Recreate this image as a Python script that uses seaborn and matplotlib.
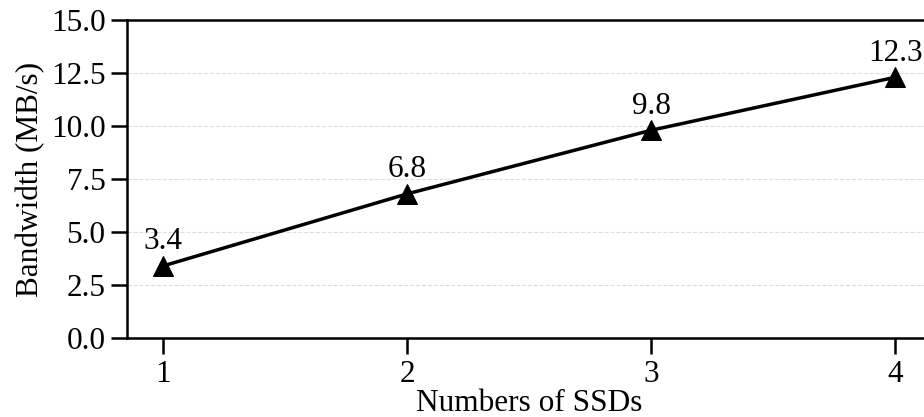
import matplotlib
matplotlib.use('Agg')
import matplotlib.pyplot as plt
import seaborn as sns
import pandas as pd

# values
num_ssds = [1, 2, 3, 4]
bandwidth = [3.4, 6.8, 9.8, 12.3]
y_ticks = [0.0, 2.5, 5.0, 7.5, 10.0, 12.5, 15.0]

sns.set_style('ticks')
plt.rcParams['font.family'] = ['Liberation Serif', 'DejaVu Serif']
plt.rcParams['font.size'] = 22.5
plt.rcParams['text.color'] = 'black'
plt.rcParams['axes.labelcolor'] = 'black'
plt.rcParams['xtick.color'] = 'black'
plt.rcParams['ytick.color'] = 'black'

df = pd.DataFrame({'ssds': num_ssds, 'bw': bandwidth})

fig = plt.figure(figsize=(9.24, 4.17), dpi=100)
ax = fig.add_axes([127 / 924, 1 - 338 / 417, (932 - 127) / 924, (338 - 20) / 417])

sns.lineplot(data=df, x='ssds', y='bw', ax=ax, color='black', linewidth=2.5,
             marker='^', markersize=15, markeredgecolor='black', zorder=3)

for x, y in zip(num_ssds, bandwidth):
    ax.annotate(f'{y}', (x, y), xytext=(0, 7), textcoords='offset points',
                ha='center', va='bottom', fontsize=22.5)

ax.set_xlim(0.852, 4.15)
ax.set_ylim(0, 15)
ax.set_xticks(num_ssds)
ax.set_yticks(y_ticks)
ax.set_yticklabels([f'{v:.1f}' for v in y_ticks])
ax.yaxis.grid(True, linestyle='--', color='#dddddd', linewidth=0.8)
ax.set_axisbelow(True)

for side in ['left', 'bottom', 'top']:
    ax.spines[side].set_linewidth(1.8)
    ax.spines[side].set_color('black')
ax.spines['right'].set_visible(False)
ax.tick_params(axis='both', length=11.5, width=1.8, labelsize=22.5, pad=4)

ax.set_xlabel('Numbers of SSDs', fontsize=22.5, labelpad=0)
ax.set_ylabel('Bandwidth (MB/s)', fontsize=22.5, labelpad=4)

plt.savefig('out.png', dpi=100)
